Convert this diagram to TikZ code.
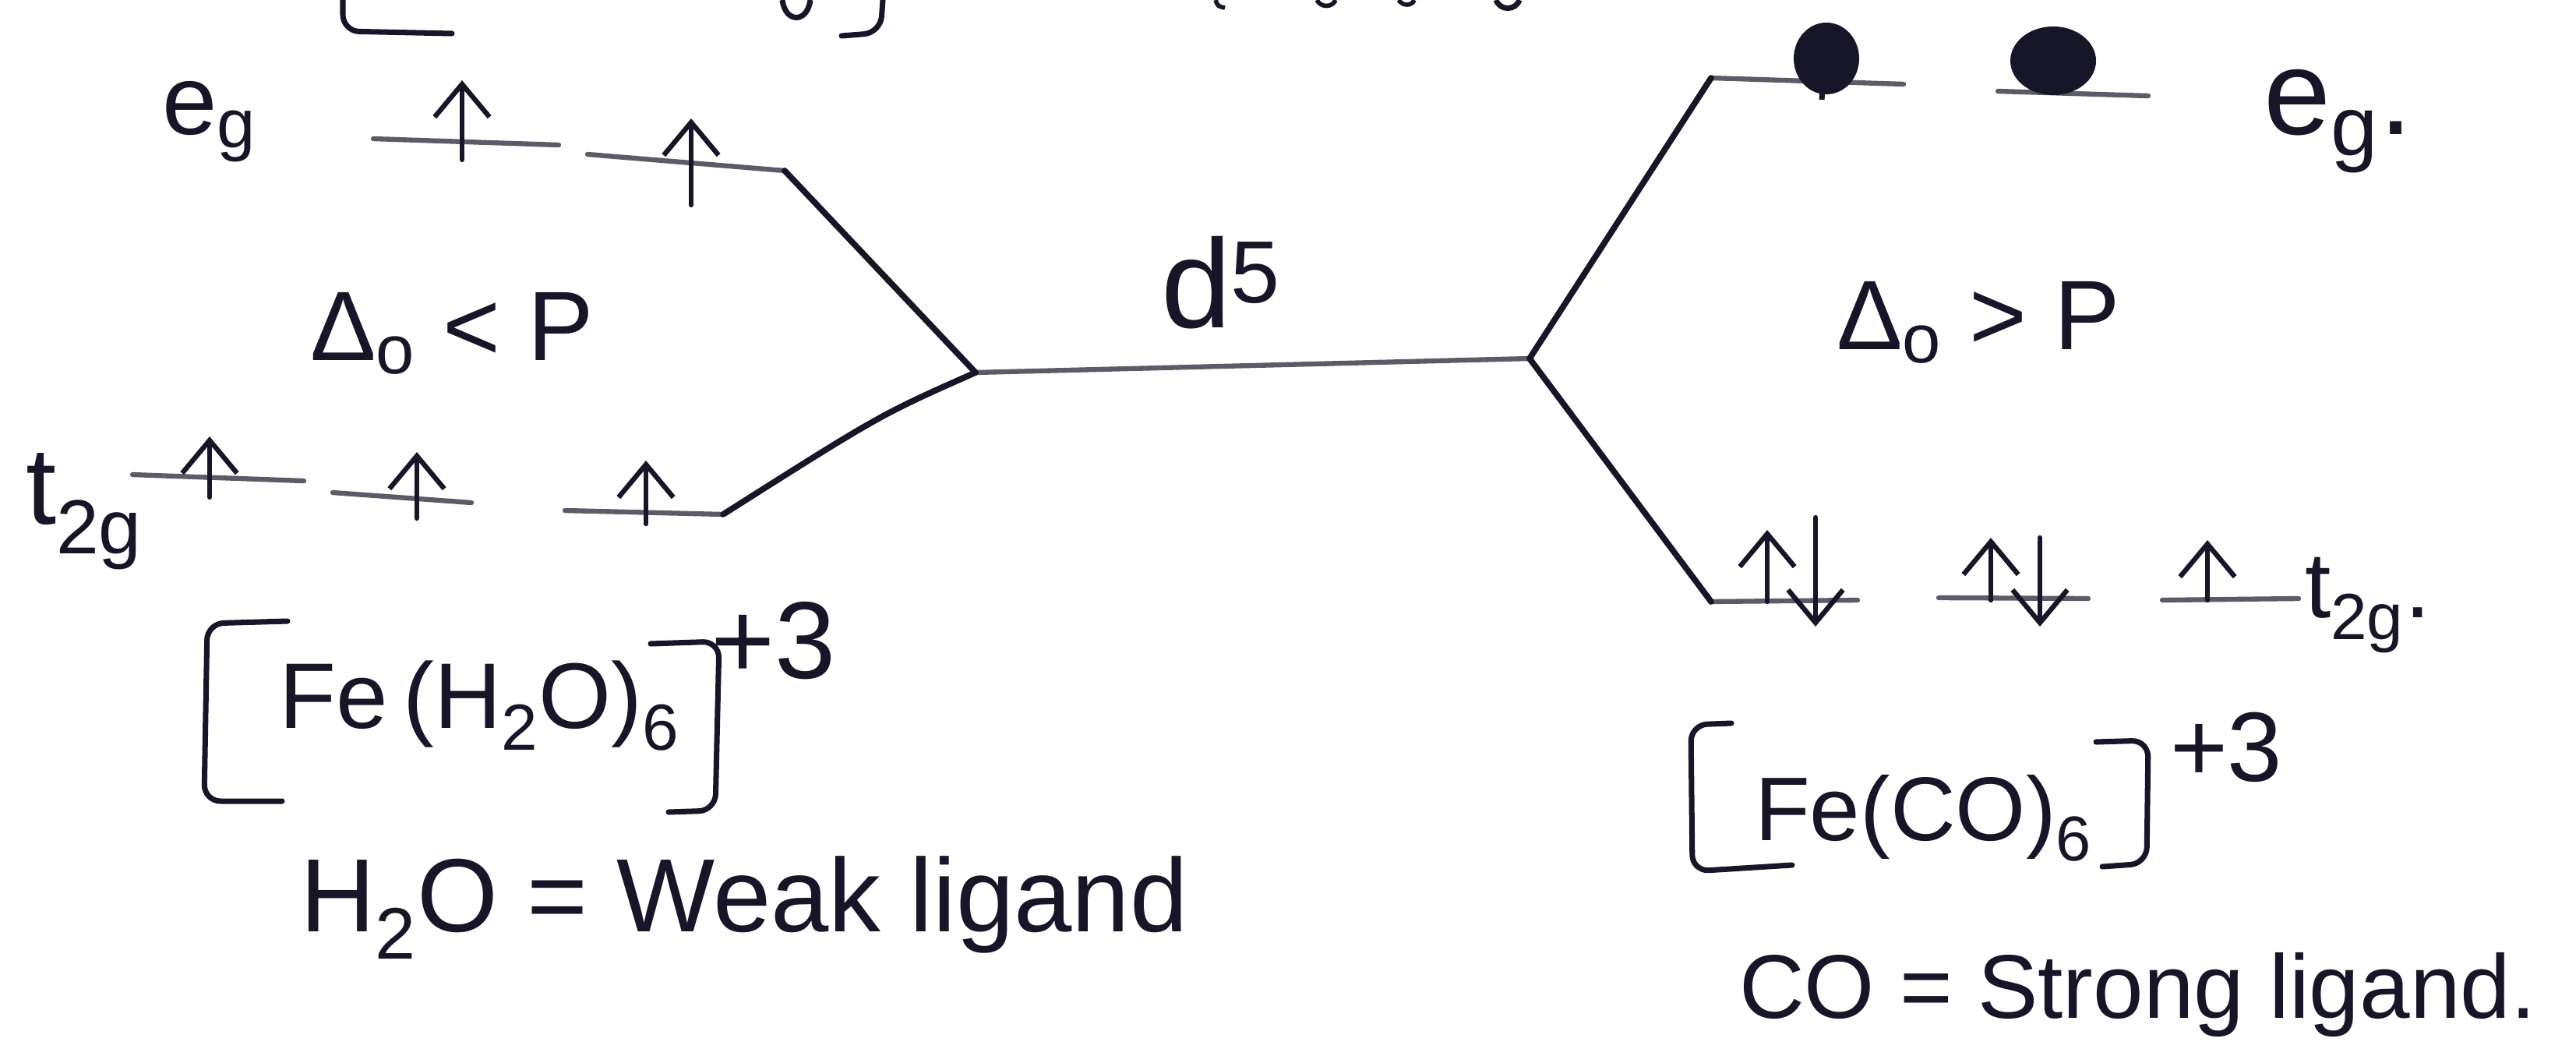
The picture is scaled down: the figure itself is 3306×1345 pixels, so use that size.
\documentclass[tikz,border=0pt]{standalone}
\usepackage{fontspec}
\setmainfont{Liberation Sans}
\usetikzlibrary{arrows.meta}
\definecolor{ink}{RGB}{22,22,40}
\begin{document}
\begin{tikzpicture}[x=0.01cm,y=-0.01cm,
  every node/.style={inner sep=0pt, outer sep=0pt, text=ink},
  level/.style={draw=ink!70, line width=1.8pt, line cap=round},
  link/.style={draw=ink, line width=2.2pt, line cap=round, line join=round},
  spinup/.style={draw=ink, line width=1.8pt, line cap=round, -{Straight Barb[length=12pt,width=20pt,line width=1.8pt]}},
  blob/.style={fill=ink},
  bracket/.style={draw=ink, line width=2pt, line cap=round, rounded corners=6pt},
  big/.style={font=\fontsize{36}{40}\selectfont},
  mid/.style={font=\fontsize{34}{38}\selectfont},
  huge/.style={font=\fontsize{46}{50}\selectfont}]
\fill[white] (0,0) rectangle (3306,1345);
\useasboundingbox (0,0) rectangle (3306,1345);

% fragments of the line above, cut by the page edge
\draw[bracket] (440,0) -- (440,40) -- (580,43);
\draw[bracket] (1133,0) -- (1130,42) -- (1080,46);
\draw[ink, line width=2pt] (1004,0) .. controls (1008,30) and (1036,30) .. (1040,0);
\draw[ink, line width=1.6pt] (1560,0) .. controls (1563,8) .. (1572,10);
\draw[ink, line width=1.6pt] (1690,0) .. controls (1695,10) and (1710,10) .. (1714,0);
\draw[ink, line width=1.6pt] (1795,0) .. controls (1800,8) and (1812,8) .. (1815,0);
\draw[ink, line width=2pt] (1920,0) .. controls (1925,14) and (1945,14) .. (1950,0);

% junctions of the splitting diagram
\coordinate (jl) at (1252,478);
\coordinate (jr) at (1963,460);

% left: weak field levels
\coordinate (leg1a) at (479,178);  \coordinate (leg1b) at (717,186);
\coordinate (leg2a) at (754,198);  \coordinate (leg2b) at (1007,219);
\coordinate (lt1a) at (170,609);   \coordinate (lt1b) at (390,617);
\coordinate (lt2a) at (427,632);   \coordinate (lt2b) at (605,645);
\coordinate (lt3a) at (725,655);   \coordinate (lt3b) at (928,660);
% right: strong field levels
\coordinate (reg1a) at (2196,100); \coordinate (reg1b) at (2443,108);
\coordinate (reg2a) at (2564,117); \coordinate (reg2b) at (2757,123);
\coordinate (rt1a) at (2196,772);  \coordinate (rt1b) at (2384,770);
\coordinate (rt2a) at (2488,767);  \coordinate (rt2b) at (2680,768);
\coordinate (rt3a) at (2775,770);  \coordinate (rt3b) at (2950,768);

\foreach \a/\b in {leg1a/leg1b, leg2a/leg2b, lt1a/lt1b, lt2a/lt2b, lt3a/lt3b,
                   reg1a/reg1b, reg2a/reg2b, rt1a/rt1b, rt2a/rt2b, rt3a/rt3b}
  \draw[level] (\a) -- (\b);

\draw[level] (jl) -- (jr);
\draw[link] (leg2b) -- (jl);
\draw[link] (lt3b) .. controls (1130,532) .. (jl);
\draw[link] (jr) -- (reg1a);
\draw[link] (jr) -- (rt1a);

% electrons, high spin
\draw[spinup] (593,205) -- (593,103);
\draw[spinup] (887,263) -- (887,152);
\draw[spinup] (269,638) -- (269,560);
\draw[spinup] (535,665) -- (535,580);
\draw[spinup] (829,672) -- (829,591);

% electrons, low spin
\draw[spinup] (2268,772) -- (2268,680);
\draw[spinup] (2330,664) -- (2330,804);
\draw[spinup] (2555,770) -- (2555,690);
\draw[spinup] (2618,690) -- (2618,804);
\draw[spinup] (2833,770) -- (2833,693);

% struck-out electrons on the upper right levels
\fill[blob] (2344,75) ellipse [x radius=42, y radius=46];
\draw[ink, line width=2pt] (2340,100) -- (2338,128);
\fill[blob] (2635,78) ellipse [x radius=55, y radius=44];

% labels
\node[big, anchor=base west] (egL) at (208,172) {e\textsubscript{g}};
\node[font=\fontsize{40}{44}\selectfont, anchor=base west] (t2gL) at (33,672) {t\textsubscript{2g}};
\node[big, anchor=base west] (condL) at (398,462) {Δ\textsubscript{o} < P};
\node[huge, anchor=base west] (dfive) at (1490,420) {d\textsuperscript{5}};
\node[big, anchor=base west] (condR) at (2357,448) {Δ\textsubscript{o} > P};
\node[font=\fontsize{44}{48}\selectfont, anchor=base west] (egR) at (2905,172) {e\textsubscript{g}.};
\node[mid, anchor=base west] (t2gR) at (2958,792) {t\textsubscript{2g}.};

% complexes
\draw[bracket] (369,797) -- (266,800) -- (262,1028) -- (362,1028);
\draw[bracket] (835,826) -- (923,823) -- (918,1040) -- (858,1042);
\node[font=\fontsize{34}{38}\selectfont, anchor=base west] (cxL) at (358,934) {Fe\,(H\textsubscript{2}O)\textsubscript{6}};
\node[font=\fontsize{40}{44}\selectfont, anchor=base west] (chL) at (912,870) {+3};

\draw[bracket] (2222,928) -- (2170,930) -- (2172,1118) -- (2300,1110);
\draw[bracket] (2690,952) -- (2757,950) -- (2755,1108) -- (2698,1112);
\node[font=\fontsize{33}{37}\selectfont, anchor=base west] (cxR) at (2252,1078) {Fe(CO)\textsubscript{6}};
\node[big, anchor=base west] (chR) at (2785,1002) {+3};

\node[font=\fontsize{38}{42}\selectfont, anchor=base west] (weak) at (385,1195) {H\textsubscript{2}O = Weak ligand};
\node[font=\fontsize{33}{37}\selectfont, anchor=base west] (strong) at (2232,1306) {CO = Strong ligand.};
\end{tikzpicture}
\end{document}
